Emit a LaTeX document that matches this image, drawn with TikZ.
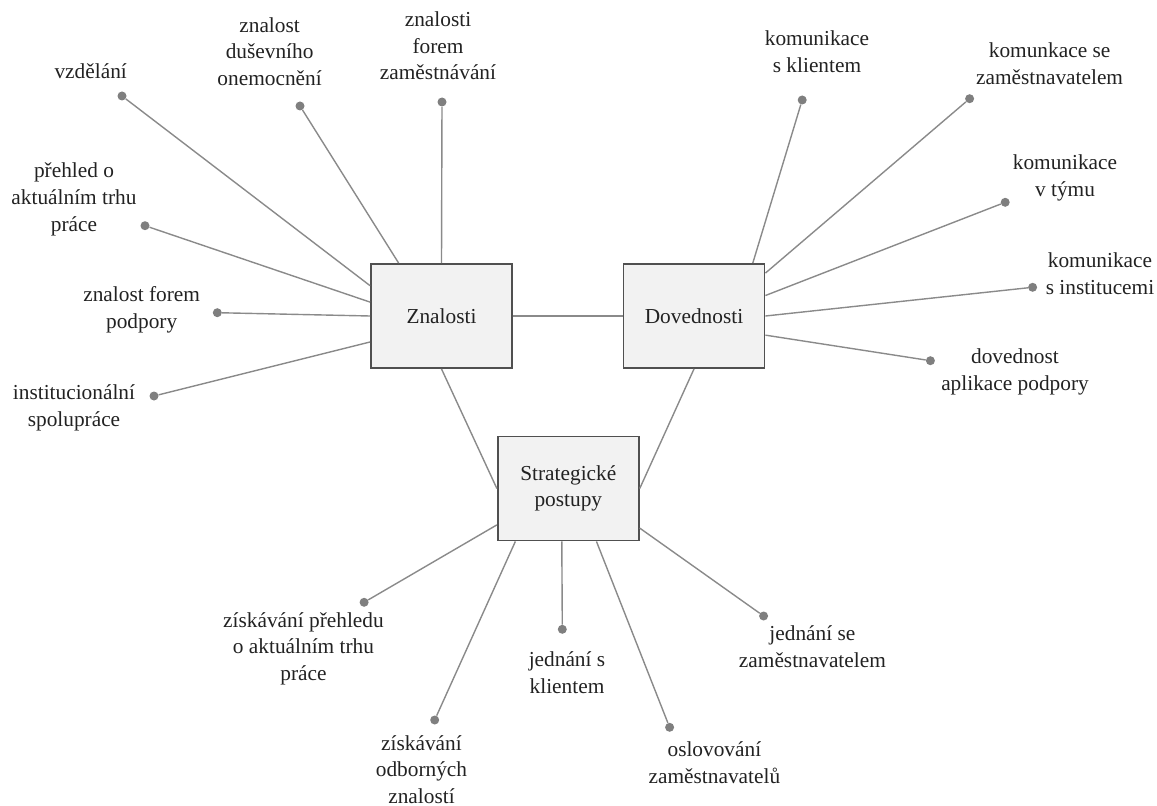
\documentclass[tikz,border=0pt]{standalone}
\usepackage{fontspec}
\setmainfont{Liberation Serif}
\usepackage{xcolor}
\definecolor{linegray}{HTML}{8A8A8A}
\definecolor{dotgray}{HTML}{7F7F7F}
\definecolor{boxfill}{HTML}{F2F2F2}
\definecolor{boxline}{HTML}{505050}
\definecolor{txt}{HTML}{222222}

\begin{document}
\begin{tikzpicture}[x=0.75pt, y=-0.75pt,
  hub/.style={draw=boxline, fill=boxfill, line width=1.4pt, rectangle, minimum width=105.75pt, minimum height=78pt, align=center, text=txt, inner sep=0pt, font=\fontsize{16}{20}\selectfont},
  leaf/.style={circle, fill=dotgray, inner sep=0pt, minimum size=6.75pt},
  leaftext/.style={align=center, text=txt, inner sep=0pt, font=\fontsize{16}{20}\selectfont, execute at begin node=\strut, execute at end node=\strut},
  spoke/.style={draw=linegray, line width=1.05pt}]
\useasboundingbox (0,0) rectangle (1157,806);

% hlavni uzly
\node[hub] (zn) at (441.5,316) {Znalosti};
\node[hub] (dv) at (694,316) {Dovednosti};
\node[hub] (st) at (568.3,488.5) {Strategické\\postupy};

\draw[spoke] (zn.east) -- (dv.west);
\draw[spoke] (zn.south) -- (st.west);
\draw[spoke] (dv.south) -- (st.east);

% znalosti
\node[leaf] (zn1) at (122,96) {};
\node[leaf] (zn2) at (300,106) {};
\node[leaf] (zn3) at (442,102) {};
\node[leaf] (zn4) at (145,225.7) {};
\node[leaf] (zn5) at (217.3,312.7) {};
\node[leaf] (zn6) at (154,396) {};
\node[leaftext] (zn1t) at (90.7,73.3) {vzdělání};
\node[leaftext] (zn2t) at (269.6,55.5) {znalost\\duševního\\onemocnění};
\node[leaftext] (zn3t) at (438,49.8) {znalosti\\forem\\zaměstnávání};
\node[leaftext] (zn4t) at (74,201) {přehled o\\aktuálním trhu\\práce};
\node[leaftext] (zn5t) at (141.7,311.5) {znalost forem\\podpory};
\node[leaftext] (zn6t) at (74,409.5) {institucionální\\spolupráce};
\draw[spoke] (zn.157.2) -- (zn1);
\draw[spoke] (zn.129.1) -- (zn2);
\draw[spoke] (zn.north) -- (zn3);
\draw[spoke] (zn.169.9) -- (zn4);
\draw[spoke] (zn.west) -- (zn5);
\draw[spoke] (zn.200.9) -- (zn6);

% dovednosti
\node[leaf] (dv1) at (802.2,100) {};
\node[leaf] (dv2) at (969.6,98.7) {};
\node[leaf] (dv3) at (1005.2,202.3) {};
\node[leaf] (dv4) at (1032.6,287.3) {};
\node[leaf] (dv5) at (930.4,360.7) {};
\node[leaftext] (dv1t) at (817,55.5) {komunikace\\s klientem};
\node[leaftext] (dv2t) at (1049.6,67.5) {komunkace se\\zaměstnavatelem};
\node[leaftext] (dv3t) at (1065,179.3) {komunikace\\v týmu};
\node[leaftext] (dv4t) at (1100,277.5) {komunikace\\s institucemi};
\node[leaftext] (dv5t) at (1015,373.3) {dovednost\\aplikace podpory};
\draw[spoke] (dv.42.7) -- (dv1);
\draw[spoke] (dv.31) -- (dv2);
\draw[spoke] (dv.16.5) -- (dv3);
\draw[spoke] (dv.east) -- (dv4);
\draw[spoke] (dv.345) -- (dv5);

% strategicke postupy
\node[leaf] (st1) at (364.1,602.3) {};
\node[leaf] (st2) at (434.7,720) {};
\node[leaf] (st3) at (562.3,629.3) {};
\node[leaf] (st4) at (669.6,727.3) {};
\node[leaf] (st5) at (763.6,616) {};
\node[leaftext] (st1t) at (303.5,650.3) {získávání přehledu\\o aktuálním trhu\\práce};
\node[leaftext] (st2t) at (421.5,773.3) {získávání\\odborných\\znalostí};
\node[leaftext] (st3t) at (567,676.3) {jednání s\\klientem};
\node[leaftext] (st4t) at (714.4,766.7) {oslovování\\zaměstnavatelů};
\node[leaftext] (st5t) at (812.4,650.3) {jednání se\\zaměstnavatelem};
\draw[spoke] (st.207.8) -- (st1);
\draw[spoke] (st.225.1) -- (st2);
\draw[spoke] (st.263.4) -- (st3);
\draw[spoke] (st.298.9) -- (st4);
\draw[spoke] (st.331.2) -- (st5);
\end{tikzpicture}
\end{document}
